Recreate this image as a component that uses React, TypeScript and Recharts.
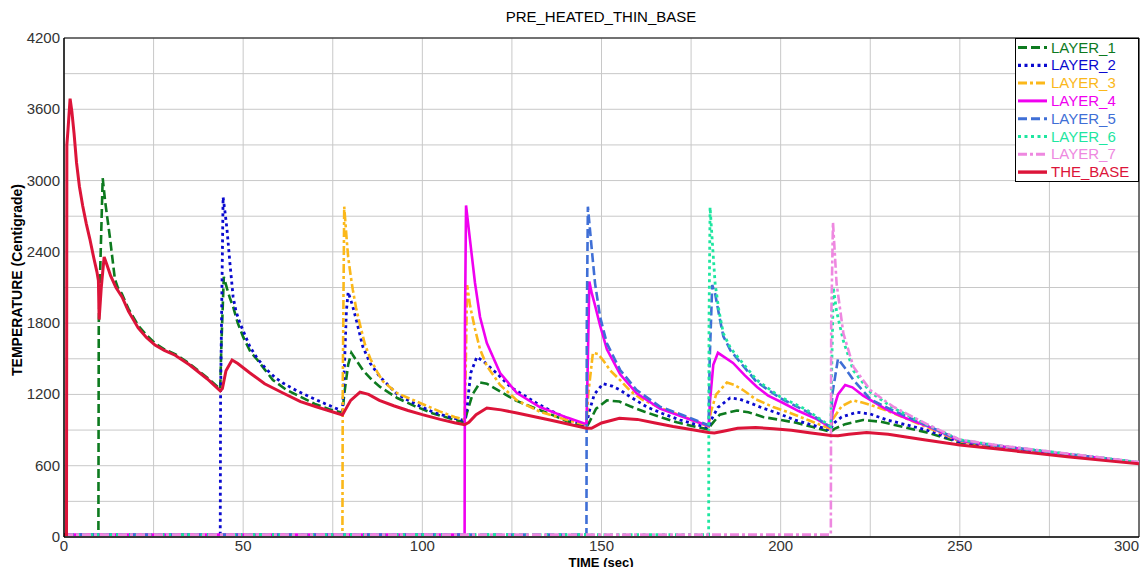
import React from 'react';
import { LineChart, Line, XAxis, YAxis, CartesianGrid, ReferenceLine } from 'recharts';

type P = [number, number];

// [time (sec), temperature (Centigrade)]
const LAYER_1: P[] = [
  [0, 20], [9.6, 20], [9.7, 1800], [10.8, 3020], [11.5, 2820], [12.8, 2525], [14.2, 2170], [15, 2100], [16.1, 2050], [18, 1920], [20.7, 1780], [23, 1700], [25.4, 1630], [28, 1580], [31, 1540], [35, 1460], [40, 1340], [43.6, 1245],
  [43.9, 1600], [44.6, 2190], [45.5, 2090], [46.3, 2010], [47.2, 1937], [48.5, 1800], [50, 1684], [52, 1560], [54, 1490], [56, 1410], [58.3, 1322], [62, 1240], [66, 1180], [70, 1120], [74, 1075], [77.7, 1045],
  [78.2, 1200], [79.3, 1450], [80.2, 1550], [81.5, 1490], [83.4, 1405], [86, 1320], [88.2, 1263], [93, 1170], [98, 1100], [103, 1040], [108, 995], [111.8, 965],
  [112.5, 1050], [114, 1200], [116.1, 1300], [118, 1290], [121.7, 1225], [126, 1150], [130.9, 1090], [136, 1030], [140.4, 975], [145.8, 925],
  [146.5, 960], [148.5, 1080], [151.5, 1150], [155, 1140], [158, 1100], [162, 1055], [166.3, 1010], [171, 965], [176.7, 925], [179.9, 905],
  [180.5, 940], [183, 1030], [187.8, 1065], [191, 1050], [195.1, 1010], [200, 985], [204.6, 960], [209, 925], [214, 885],
  [215, 910], [218, 950], [223, 985], [228, 970], [234.2, 926], [240.8, 880], [250, 795], [260, 760], [270, 725], [280, 690], [290, 655], [300, 622],
];

const LAYER_2: P[] = [
  [0, 20], [43.6, 20], [43.7, 1200], [44.4, 2860], [45, 2720], [45.5, 2585], [46.3, 2306], [47.2, 2020], [48, 1900], [49.1, 1800], [50.5, 1700], [51.9, 1600], [54, 1500], [56.7, 1405], [59, 1340], [61.1, 1296], [65, 1230], [68.7, 1178], [73, 1120], [77.7, 1060],
  [78.1, 1300], [78.8, 1900], [79.3, 2062], [80.5, 1950], [81.8, 1800], [83.4, 1600], [85.5, 1460], [88.2, 1347], [93, 1200], [98, 1120], [103, 1050], [108, 1005], [111.8, 980],
  [112.5, 1100], [113.5, 1380], [115.2, 1515], [117, 1480], [120, 1400], [124.6, 1263], [131.8, 1128], [136, 1060], [140.4, 1000], [145.8, 935],
  [146.5, 1050], [148, 1200], [150.4, 1290], [153, 1270], [155.2, 1237], [158, 1180], [162.7, 1094], [167, 1040], [171.9, 985], [176, 950], [179.9, 920],
  [180.5, 980], [182.5, 1090], [185.9, 1170], [188.5, 1160], [191.5, 1128], [195, 1085], [199, 1044], [204, 985], [210.2, 930], [214, 900],
  [214.5, 950], [217, 1010], [221.3, 1050], [225, 1035], [229.7, 985], [235, 945], [240.8, 900], [250, 800], [260, 762], [270, 727], [280, 692], [290, 657], [300, 624],
];

const LAYER_3: P[] = [
  [0, 20], [77.7, 20], [77.8, 1300], [78.2, 2780], [78.9, 2500], [79.3, 2357], [80, 2200], [80.6, 2080], [81.5, 1930], [82.5, 1800], [84, 1620], [85.5, 1500], [87.4, 1390], [89, 1310], [93, 1210], [100, 1120], [105, 1055], [109, 1010], [111.8, 990],
  [112.1, 1400], [112.5, 2120], [113.3, 1950], [114.7, 1750], [116.1, 1580], [118, 1440], [121.7, 1280], [126.4, 1150], [132.8, 1055], [140.4, 985], [145.8, 945],
  [146.3, 1200], [147.6, 1550], [149, 1540], [150.4, 1490], [152.5, 1400], [155.2, 1320], [158, 1230], [161.6, 1153], [167, 1080], [174, 1000], [179.9, 930],
  [180.5, 1050], [182, 1200], [185, 1300], [187, 1280], [189.5, 1237], [193, 1160], [197.9, 1094], [203, 1040], [208, 980], [214, 910],
  [214.5, 990], [217, 1100], [220.2, 1150], [223, 1130], [226.9, 1094], [232, 1035], [240.8, 925], [250, 805], [260, 765], [270, 730], [280, 695], [290, 660], [300, 625],
];

const LAYER_4: P[] = [
  [0, 20], [111.8, 20], [111.9, 1800], [112.2, 2790], [113.3, 2500], [114.7, 2138], [116.1, 1852], [118, 1633], [121.7, 1380], [126.4, 1212], [132.8, 1094], [140.4, 1005], [145.8, 950],
  [146.2, 1500], [146.6, 2150], [147.3, 2050], [148.2, 1950], [149.6, 1780], [151.5, 1580], [155.2, 1370], [159.8, 1210], [166.3, 1080], [173.8, 1000], [179.9, 935],
  [180.3, 1150], [181.2, 1450], [182.5, 1550], [184.5, 1510], [186.7, 1465], [190, 1360], [193.4, 1263], [196.5, 1190], [200.7, 1128], [205, 1060], [210.2, 990], [214, 920],
  [214.5, 1050], [216, 1200], [218, 1280], [220, 1260], [223, 1190], [229.7, 1070], [235, 1000], [240.8, 935], [250, 810], [260, 768], [270, 732], [280, 697], [290, 662], [300, 626],
];

const LAYER_5: P[] = [
  [0, 20], [145.8, 20], [145.9, 1800], [146.2, 2780], [147.3, 2416], [148.2, 2135], [149.6, 1854], [151.5, 1630], [155.2, 1406], [159.8, 1237], [166.3, 1097], [173.8, 1013], [179.9, 940],
  [180.2, 1500], [180.9, 2121], [181.7, 2050], [182.8, 1870], [184, 1690], [186, 1570], [188.7, 1470], [193.3, 1305], [199.8, 1170], [207.3, 1055], [214, 925],
  [214.4, 1200], [216, 1500], [218, 1420], [220.3, 1322], [225, 1160], [231, 1070], [240.8, 940], [250, 815], [260, 770], [270, 734], [280, 699], [290, 664], [300, 627],
];

const LAYER_6: P[] = [
  [0, 20], [179.9, 20], [180, 1800], [180.3, 2775], [181, 2450], [181.7, 2135], [182.8, 1900], [184, 1714], [186, 1590], [188.7, 1490], [193.3, 1322], [199.8, 1181], [207.3, 1069], [214, 930],
  [214.3, 1500], [214.7, 2100], [215.6, 1900], [217.5, 1650], [220.3, 1400], [225, 1220], [231.4, 1085], [240.8, 945], [250, 818], [260, 772], [270, 736], [280, 700], [290, 665], [300, 628],
];

const LAYER_7: P[] = [
  [0, 20], [214, 20], [214.1, 1800], [214.6, 2650], [215.6, 2135], [217.5, 1714], [220.3, 1433], [225, 1237], [231.4, 1097], [240.8, 950], [250, 820], [260, 775], [270, 738], [280, 702], [290, 667], [300, 630],
];

const THE_BASE: P[] = [
  [0, 20], [0.7, 20], [0.8, 3300], [1.1, 3420], [1.7, 3690], [2.2, 3580], [2.8, 3400], [3.5, 3150], [4.3, 2950], [5.2, 2790], [6.2, 2640], [7.2, 2510], [8.3, 2350], [9.2, 2230], [9.6, 2160], [9.8, 1830], [10.4, 2100], [11.2, 2357], [12, 2290], [13, 2200], [14.5, 2100], [16.2, 2020], [18, 1900], [20.7, 1760], [23, 1680], [25.4, 1616], [28, 1570], [31, 1530], [35, 1450], [40, 1330], [43.6, 1230],
  [44.2, 1250], [45.2, 1400], [46.9, 1490], [48.5, 1460], [51.9, 1380], [56, 1290], [61.1, 1212], [66, 1140], [70.6, 1094], [77.7, 1027],
  [78.5, 1070], [80, 1150], [82.6, 1220], [85, 1200], [88, 1150], [92, 1105], [96, 1065], [100, 1030], [105, 990], [109, 962], [111.8, 945],
  [113, 965], [115, 1030], [118, 1085], [122, 1070], [126.4, 1044], [131, 1015], [135.6, 985], [140, 955], [145.8, 915],
  [147.2, 915], [150, 960], [155, 1000], [160, 990], [165, 960], [170, 930], [175, 905], [179.9, 880],
  [181.5, 875], [184, 890], [188, 915], [193, 922], [198, 912], [203, 898], [208, 878], [214, 855],
  [216, 852], [219, 865], [224, 880], [230, 865], [240, 818], [250, 775], [260, 742], [270, 708], [280, 675], [290, 645], [300, 617],
];

const X_TICKS = [0, 25, 50, 75, 100, 125, 150, 175, 200, 225, 250, 275, 300];
const X_LABELED = [0, 50, 100, 150, 200, 250, 300];
const Y_TICKS = [0, 300, 600, 900, 1200, 1500, 1800, 2100, 2400, 2700, 3000, 3300, 3600, 3900, 4200];
const Y_LABELED = [0, 600, 1200, 1800, 2400, 3000, 3600, 4200];

const SERIES = [
  { name: 'LAYER_1', pts: LAYER_1, color: '#0d7a1f', dash: '9 4', width: 2.6 },
  { name: 'LAYER_2', pts: LAYER_2, color: '#0a0acf', dash: '3 3.5', width: 2.8 },
  { name: 'LAYER_3', pts: LAYER_3, color: '#fbb81a', dash: '9 3 3 3', width: 2.6 },
  { name: 'LAYER_4', pts: LAYER_4, color: '#f000f0', dash: undefined, width: 2.6 },
  { name: 'LAYER_5', pts: LAYER_5, color: '#3f6fd6', dash: '9 4', width: 2.6 },
  { name: 'LAYER_6', pts: LAYER_6, color: '#1ee6a0', dash: '3 3.5', width: 2.8 },
  { name: 'LAYER_7', pts: LAYER_7, color: '#ee88e0', dash: '9 3 3 3', width: 2.6 },
  { name: 'THE_BASE', pts: THE_BASE, color: '#dc1439', dash: undefined, width: 3 },
];

const FONT = 'Arial, "Liberation Sans", sans-serif';

const XTick = (props: any) => {
  const { x, y, payload } = props;
  const v = payload.value;
  if (!X_LABELED.includes(v)) return null;
  const anchor = v === 300 ? 'end' : 'middle';
  return (
    <text x={x} y={y + 14} textAnchor={anchor} fontSize={15} fill="#333" fontFamily={FONT}>
      {v}
    </text>
  );
};

const YTick = (props: any) => {
  const { x, y, payload } = props;
  const v = payload.value;
  if (!Y_LABELED.includes(v)) return null;
  return (
    <text x={x - 4} y={y + 5} textAnchor="end" fontSize={15} fill="#333" fontFamily={FONT}>
      {v}
    </text>
  );
};

export default function App() {
  return (
    <div style={{ position: 'relative', width: 1132, height: 567, marginBottom: -8, fontFamily: FONT, overflow: 'hidden' }}>
      <LineChart width={1132} height={559} margin={{ top: 30, right: 1, bottom: 0, left: 0 }}>
        <CartesianGrid stroke="#c8c8c8" strokeWidth={1} />
        <XAxis
          type="number"
          dataKey="t"
          domain={[0, 300]}
          ticks={X_TICKS}
          interval={0}
          allowDataOverflow
          tick={<XTick />}
          tickLine={false}
          tickSize={0}
          tickMargin={0}
          height={30}
          axisLine={{ stroke: '#000', strokeWidth: 1.5 }}
        />
        <YAxis
          type="number"
          domain={[0, 4200]}
          ticks={Y_TICKS}
          interval={0}
          allowDataOverflow
          tick={<YTick />}
          tickLine={false}
          tickSize={0}
          tickMargin={0}
          width={56}
          axisLine={{ stroke: '#000', strokeWidth: 1.5 }}
        />
        <ReferenceLine y={4200} stroke="#000" strokeWidth={1} />
        <ReferenceLine x={300} stroke="#000" strokeWidth={1} />
        {SERIES.map((s) => (
          <Line
            key={s.name}
            name={s.name}
            data={s.pts.map(([t, v]) => ({ t, v }))}
            dataKey="v"
            type="linear"
            stroke={s.color}
            strokeWidth={s.width}
            strokeDasharray={s.dash}
            dot={false}
            activeDot={false}
            isAnimationActive={false}
          />
        ))}
      </LineChart>

      <div style={{ position: 'absolute', left: 393, width: 400, top: 1, textAlign: 'center', fontSize: 15, lineHeight: '16px', color: '#000' }}>
        PRE_HEATED_THIN_BASE
      </div>
      <div style={{ position: 'absolute', left: 393, width: 400, top: 546.5, textAlign: 'center', fontSize: 13, fontWeight: 'bold', lineHeight: '15px', color: '#000' }}>
        TIME (sec)
      </div>
      <div style={{ position: 'absolute', left: 9, top: 272, transform: 'translate(-50%, -50%) rotate(-90deg)', whiteSpace: 'nowrap', fontSize: 14, fontWeight: 'bold', lineHeight: '16px', color: '#000' }}>
        TEMPERATURE (Centigrade)
      </div>

      <svg style={{ position: 'absolute', left: 1007, top: 30 }} width={124} height={144}>
        <rect x={0.5} y={0.5} width={123} height={143} fill="#fff" stroke="#000" strokeWidth={1} />
        {SERIES.map((s, i) => {
          const cy = 9.5 + i * 17.8;
          return (
            <g key={s.name}>
              <line x1={3} x2={32} y1={cy} y2={cy} stroke={s.color} strokeWidth={s.width + 0.4} strokeDasharray={s.dash} />
              <text x={36} y={cy + 5} fontSize={15} fill={s.color} fontFamily={FONT}>
                {s.name}
              </text>
            </g>
          );
        })}
      </svg>
    </div>
  );
}
